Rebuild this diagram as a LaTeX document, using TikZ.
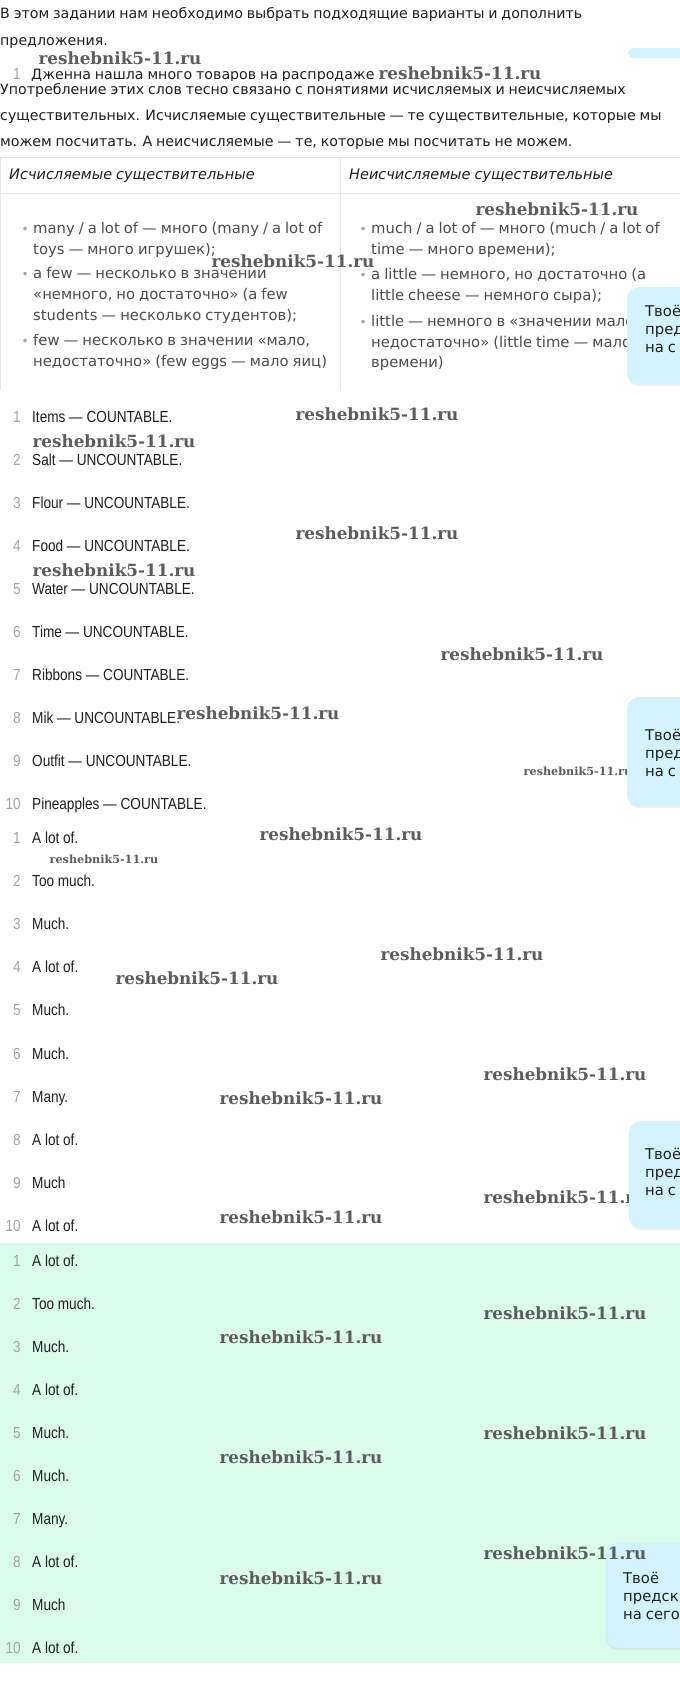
\documentclass[tikz,border=0pt]{standalone}
\usepackage{fontspec}
\setmainfont{DejaVu Sans}
\newfontfamily\bodyf[WordSpace=0.85]{DejaVu Sans}
\newfontfamily\condf[FakeStretch=0.85]{Liberation Sans}
\newfontfamily\wmf{DejaVu Serif}
\usetikzlibrary{shadows}
\definecolor{txt}{HTML}{1F1F1F}
\definecolor{numc}{HTML}{A3A3A3}
\definecolor{gridc}{HTML}{E6E6E6}
\definecolor{mint}{HTML}{DBFCEA}
\definecolor{bub}{HTML}{D2F3FB}
\definecolor{wmc}{HTML}{5C5C5C}
\tikzset{
  body/.style={anchor=base west, inner sep=0pt, text=txt, font=\bodyf\fontsize{14.2}{18}\selectfont},
  hdr/.style={anchor=base west, inner sep=0pt, text=txt, font=\bodyf\itshape\fontsize{14.5}{18}\selectfont},
  tbl/.style={anchor=base west, inner sep=0pt, text=txt!80, font=\bodyf\fontsize{14.8}{18}\selectfont},
  bul/.style={anchor=base east, inner sep=0pt, text=numc, font=\bodyf\fontsize{12}{14}\selectfont},
  item/.style={anchor=base west, inner sep=0pt, text=txt, font=\condf\fontsize{16}{18}\selectfont},
  num/.style={anchor=base east, inner sep=0pt, text=numc, font=\condf\fontsize{16}{18}\selectfont},
  wm/.style={anchor=center, inner sep=0pt, text=wmc, font=\wmf\bfseries\fontsize{16.8}{18}\selectfont},
  wms/.style={anchor=center, inner sep=0pt, text=wmc, font=\wmf\bfseries\fontsize{11.2}{12}\selectfont},
  bubt/.style={anchor=base west, inner sep=0pt, text=txt, font=\bodyf\fontsize{14.8}{18}\selectfont},
  bubble/.style={fill=bub, rounded corners=12pt, drop shadow={opacity=0.12, shadow xshift=0pt, shadow yshift=-2pt}},
}
\begin{document}
\begin{tikzpicture}[x=1pt,y=-1pt]
\useasboundingbox (0,0) rectangle (680,1698);
\fill[white] (0,0) rectangle (680,1698);
\fill[mint] (0,1243) rectangle (680,1663);
\begin{scope}
\clip (0,0) rectangle (680,1698);
% top text
\node[body] (t1) at (0,18) {В этом задании нам необходимо выбрать подходящие варианты и дополнить};
\node[body] (t2) at (0,45) {предложения.};
\begin{scope}
\clip (0,60) rectangle (680,80);
\node[num] (q1n) at (21,79) {1};
\node[body] (q1) at (31,79) {Дженна нашла много товаров на распродаже};
\end{scope}
\node[body] (t3) at (0,94) {Употребление этих слов тесно связано с понятиями исчисляемых и неисчисляемых};
\node[body] (t4) at (0,120) {существительных. Исчисляемые существительные — те существительные, которые мы};
\node[body] (t5) at (0,146) {можем посчитать. А неисчисляемые — те, которые мы посчитать не можем.};
% table
\draw[gridc, line width=1pt] (0,157) -- (680,157);
\draw[gridc, line width=1pt] (0,193) -- (680,193);
\draw[gridc, line width=1pt] (340,157) -- (340,390);
\draw[gridc, line width=1pt] (0.5,157) -- (0.5,390);
\node[hdr] (h1) at (9,179) {Исчисляемые существительные};
\node[hdr] (h2) at (349,179) {Неисчисляемые существительные};
% left column
\node[bul] (lb1) at (29,233) {•};
\node[tbl] (l1) at (33,233) {many / a lot of — много (many / a lot of};
\node[tbl] (l2) at (33,254) {toys — много игрушек);};
\node[bul] (lb2) at (29,278) {•};
\node[tbl] (l3) at (33,278) {a few — несколько в значении};
\node[tbl] (l4) at (33,299) {«немного, но достаточно» (a few};
\node[tbl] (l5) at (33,320) {students — несколько студентов);};
\node[bul] (lb3) at (29,345) {•};
\node[tbl] (l6) at (33,345) {few — несколько в значении «мало,};
\node[tbl] (l7) at (33,366) {недостаточно» (few eggs — мало яиц)};
% right column
\node[bul] (rb1) at (367,233) {•};
\node[tbl] (r1) at (371,233) {much / a lot of — много (much / a lot of};
\node[tbl] (r2) at (371,254) {time — много времени);};
\node[bul] (rb2) at (367,279) {•};
\node[tbl] (r3) at (371,279) {a little — немного, но достаточно (a};
\node[tbl] (r4) at (371,300) {little cheese — немного сыра);};
\node[bul] (rb3) at (367,326) {•};
\node[tbl] (r5) at (371,326) {little — немного в «значении мало};
\node[tbl] (r6) at (371,347) {недостаточно» (little time — мало};
\node[tbl] (r7) at (371,367) {времени)};
% list 1
\foreach \i/\t [count=\k from 0] in {1/Items — COUNTABLE.,2/Salt — UNCOUNTABLE.,3/Flour — UNCOUNTABLE.,4/Food — UNCOUNTABLE.,5/Water — UNCOUNTABLE.,6/Time — UNCOUNTABLE.,7/Ribbons — COUNTABLE.,8/Mik — UNCOUNTABLE.,9/Outfit — UNCOUNTABLE.,10/Pineapples — COUNTABLE.}{
  \node[num] (an\i) at (21,{422+43*\k}) {\i};
  \node[item] (a\i) at (32,{422+43*\k}) {\t};
}
% list 2
\foreach \i/\t [count=\k from 0] in {1/A lot of.,2/Too much.,3/Much.,4/A lot of.,5/Much.,6/Much.,7/Many.,8/A lot of.,9/Much,10/A lot of.}{
  \node[num] (bn\i) at (21,{843+43.2*\k}) {\i};
  \node[item] (b\i) at (32,{843+43.2*\k}) {\t};
}
% list 3 (green)
\foreach \i/\t [count=\k from 0] in {1/A lot of.,2/Too much.,3/Much.,4/A lot of.,5/Much.,6/Much.,7/Many.,8/A lot of.,9/Much,10/A lot of.}{
  \node[num] (cn\i) at (21,{1266+43*\k}) {\i};
  \node[item] (c\i) at (32,{1266+43*\k}) {\t};
}
% watermarks
\node[wm] (w1) at (120,58) {reshebnik5-11.ru};
\node[wm] (w2) at (460,73) {reshebnik5-11.ru};
\node[wm] (w3) at (557,209) {reshebnik5-11.ru};
\node[wm] (w4) at (293,261) {reshebnik5-11.ru};
\node[wm] (w5) at (377,414) {reshebnik5-11.ru};
\node[wm] (w6) at (114,441) {reshebnik5-11.ru};
\node[wm] (w7) at (377,533) {reshebnik5-11.ru};
\node[wm] (w8) at (114,570) {reshebnik5-11.ru};
\node[wm] (w9) at (522,654) {reshebnik5-11.ru};
\node[wm] (w10) at (258,713) {reshebnik5-11.ru};
\node[wms] (w11) at (578,771) {reshebnik5-11.ru};
\node[wm] (w12) at (341,834) {reshebnik5-11.ru};
\node[wms] (w13) at (104,859) {reshebnik5-11.ru};
\node[wm] (w14) at (462,954) {reshebnik5-11.ru};
\node[wm] (w15) at (197,978) {reshebnik5-11.ru};
\node[wm] (w16) at (565,1074) {reshebnik5-11.ru};
\node[wm] (w17) at (301,1098) {reshebnik5-11.ru};
\node[wm] (w18) at (565,1197) {reshebnik5-11.ru};
\node[wm] (w19) at (301,1217) {reshebnik5-11.ru};
\node[wm] (w20) at (565,1313) {reshebnik5-11.ru};
\node[wm] (w21) at (301,1337) {reshebnik5-11.ru};
\node[wm] (w22) at (565,1433) {reshebnik5-11.ru};
\node[wm] (w23) at (301,1457) {reshebnik5-11.ru};
\node[wm] (w25) at (301,1578) {reshebnik5-11.ru};
% bubbles
\fill[bub, rounded corners=6pt] (628,48) rectangle (700,58);
\fill[bubble] (627,287) rectangle (700,384);
\node[bubt] (bt1a) at (645,316) {Твоё};
\node[bubt] (bt1b) at (645,334) {пред};
\node[bubt] (bt1c) at (645,352) {на с};
\fill[bubble] (627,697) rectangle (700,806);
\node[bubt] (bt2a) at (645,740) {Твоё};
\node[bubt] (bt2b) at (645,758) {пред};
\node[bubt] (bt2c) at (645,776) {на с};
\fill[bubble] (629,1121) rectangle (700,1228);
\node[bubt] (bt3a) at (645,1159) {Твоё};
\node[bubt] (bt3b) at (645,1177) {пред};
\node[bubt] (bt3c) at (645,1195) {на с};
\fill[bubble] (606,1543) rectangle (700,1648);
\node[bubt] (bt4a) at (623,1583) {Твоё};
\node[bubt] (bt4b) at (623,1601) {предск};
\node[bubt] (bt4c) at (623,1619) {на сего};
\node[wm] (w24) at (565,1553) {reshebnik5-11.ru};
\end{scope}
\end{tikzpicture}
\end{document}
